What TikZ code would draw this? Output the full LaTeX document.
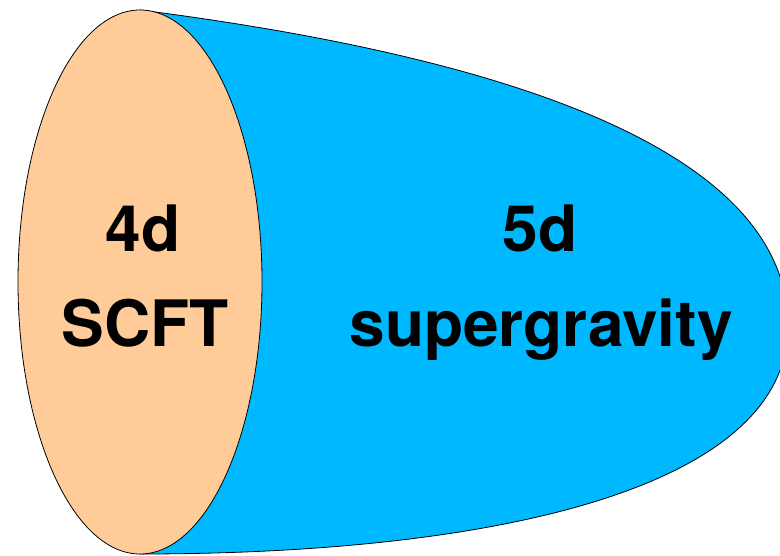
\documentclass[tikz,border=0pt]{standalone}
\usepackage{fontspec}
\setmainfont{TeX Gyre Heros}
\definecolor{bulk}{RGB}{0,184,255}
\definecolor{bdry}{RGB}{255,204,153}
\tikzset{lbl/.style={anchor=base,inner sep=0pt,font=\fontsize{64}{95}\selectfont\bfseries}}
\begin{document}
\begin{tikzpicture}[x=1pt,y=-1pt,line width=0.8pt]
\useasboundingbox (0,0) rectangle (780,556);
\draw [fill=bulk] (140,10) .. controls (490,55) and (788,145) .. (788,326)
  .. controls (788,490) and (490,554) .. (140,554) -- cycle;
\draw [fill=bdry] (140,282) ellipse [x radius=122, y radius=272];
\node [lbl] (four) at (143,252) {4d};
\node [lbl] (scft) at (145,347) {SCFT};
\node [lbl] (five) at (540,252) {5d};
\node [lbl] (sugra) at (541,347) {supergravity};
\end{tikzpicture}
\end{document}
